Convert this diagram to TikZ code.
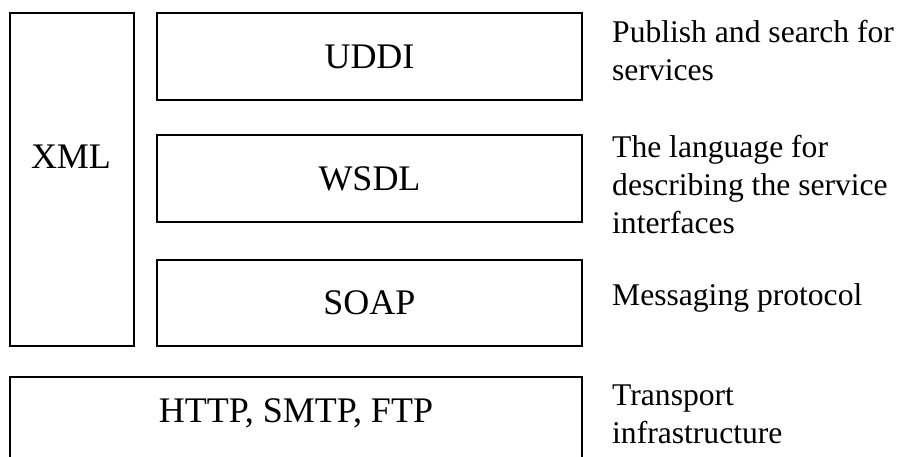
\documentclass[tikz,border=0pt]{standalone}
\usepackage{fontspec}
\setmainfont{Liberation Serif}
\begin{document}
\begin{tikzpicture}[x=1pt,y=1pt,
  box/.style={draw=black, line width=1.6pt, inner sep=0pt, font=\fontsize{36}{40}\selectfont},
  boxlabel/.style={inner sep=0pt, anchor=base, font=\fontsize{36}{40}\selectfont},
  desc/.style={inner sep=0pt, anchor=north west, align=left, font=\fontsize{31.6}{38}\selectfont}]
\useasboundingbox (0,0) rectangle (898,457);
% boxes
\node[box, minimum width=124pt, minimum height=333pt] (xml) at (72,277.5) {};
\node[boxlabel] (xmllabel) at (71,288.7) {XML};
\node[box, minimum width=425pt, minimum height=87pt] (uddi) at (369.5,400.5) {UDDI};
\node[box, minimum width=425pt, minimum height=87pt] (wsdl) at (369.5,278.5) {WSDL};
\node[box, minimum width=425pt, minimum height=86pt] (soap) at (369.5,154) {SOAP};
\node[box, minimum width=572pt, minimum height=88pt] (http) at (296,36) {};
\node[boxlabel] (httplabel) at (296,34.3) {HTTP, SMTP, FTP};
% descriptions
\node[desc] (d1) at (612,437) {Publish and search for\\services};
\node[desc] (d2) at (612,322) {The language for\\describing the service\\interfaces};
\node[desc] (d3) at (612,174) {Messaging protocol};
\node[desc] (d4) at (612,72) {Transport\\infrastructure};
\end{tikzpicture}
\end{document}
